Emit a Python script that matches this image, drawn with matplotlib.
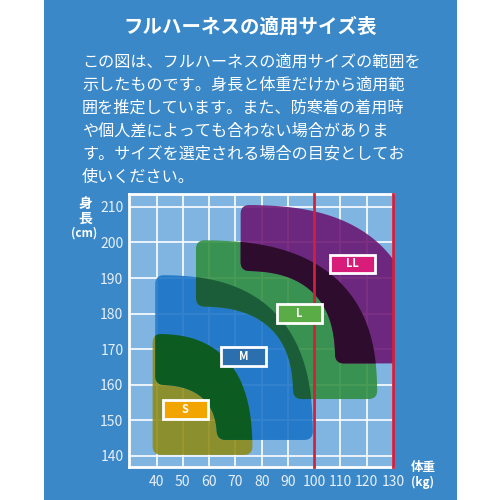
import matplotlib
matplotlib.use("Agg")
import matplotlib.pyplot as plt
from matplotlib.patches import Polygon, Rectangle
import numpy as np

plt.rcParams["font.family"] = ["Noto Sans CJK JP", "DejaVu Sans"]

# 文章
title = "フルハーネスの適用サイズ表"
body_lines = [
    "この図は、フルハーネスの適用サイズの範囲を",
    "示したものです。身長と体重だけから適用範",
    "囲を推定しています。また、防寒着の着用時",
    "や個人差によっても合わない場合がありま",
    "す。サイズを選定される場合の目安としてお",
    "使いください。",
]

# 軸
weight_ticks = [40, 50, 60, 70, 80, 90, 100, 110, 120, 130]
height_ticks = [140, 150, 160, 170, 180, 190, 200, 210]
limit_lines = [100, 130]

# サイズ範囲 (中心の体重, 中心の身長, 内側半径, 外側半径)
sizes = ["S", "M", "L", "LL"]
center_w = [38.5, 39.5, 55.0, 72.0]
center_h = [140.3, 144.5, 156.0, 166.0]
inner_w = [0.0, 23.5, 37.0, 36.0]
inner_h = [0.0, 15.5, 26.0, 26.0]
outer_w = [38.0, 60.0, 69.0, 68.0]
outer_h = [34.0, 46.3, 44.6, 44.5]

# ラベル位置
label_w = [51.0, 73.0, 94.3, 114.7]
label_h = [153.0, 168.0, 180.0, 194.0]

shape_colors = ["#8e8a12", "#1670c6", "#2f8c3d", "#6a1270"]
label_colors = ["#f2a400", "#2b6fae", "#5aac46", "#d81c7a"]
# 重なり部分 (S-M, M-L, L-LL)
overlap_pairs = [(0, 1), (1, 2), (2, 3)]
overlap_colors = ["#0b5a16", "#1b5a38", "#2a0b28"]


def band(i, n=2.6, k=80):
    t = np.linspace(0, np.pi / 2, k)
    ex = np.cos(t) ** (2 / n)
    ey = np.sin(t) ** (2 / n)
    outer = np.column_stack([center_w[i] + outer_w[i] * ex, center_h[i] + outer_h[i] * ey])
    inner = np.column_stack([center_w[i] + inner_w[i] * ex, center_h[i] + inner_h[i] * ey])
    pts = np.vstack([outer, inner[::-1]])
    return round_corners(pts)


def round_corners(pts, win=36):
    # 角を丸める (ピクセル単位に近いスケールで均等に再サンプルして平滑化)
    scale = np.array([2.63, 3.56])
    p = pts * scale
    p = np.vstack([p, p[:1]])
    seg = np.hypot(*np.diff(p, axis=0).T)
    keep = np.concatenate([[True], seg > 1e-9])
    p = p[keep]
    s = np.concatenate([[0], np.cumsum(np.hypot(*np.diff(p, axis=0).T))])
    u = np.arange(0, s[-1], 0.5)
    x = np.interp(u, s, p[:, 0])
    y = np.interp(u, s, p[:, 1])
    h = win
    ker = np.ones(h) / h
    xs = np.convolve(np.concatenate([x[-h:], x, x[:h]]), ker, mode="same")[h:-h]
    ys = np.convolve(np.concatenate([y[-h:], y, y[:h]]), ker, mode="same")[h:-h]
    return np.column_stack([xs, ys]) / scale


fig = plt.figure(figsize=(5, 5), dpi=100)
fig.patch.set_facecolor("white")
fig.patches.append(Rectangle((0.088, 0), 0.826, 1, transform=fig.transFigure,
                             facecolor="#3a88c8", edgecolor="none", zorder=-1))

fig.text(0.5, 0.946, title, ha="center", va="center", color="white",
         fontsize=14, fontweight="bold")
for i, line in enumerate(body_lines):
    fig.text(0.164, 0.876 - i * 0.046, line, ha="left", va="center",
             color="white", fontsize=11.6)

ax = fig.add_axes([0.258, 0.066, 0.528, 0.546])
ax.set_zorder(2)
ax.set_facecolor("#80b5e2")
ax.set_xlim(29.5, 130)
ax.set_ylim(136.9, 213.6)
ax.set_xticks(weight_ticks)
ax.set_yticks(height_ticks)
ax.tick_params(length=0, colors="#e8eff7", labelsize=10)
ax.tick_params(axis="x", pad=6)
ax.tick_params(axis="y", pad=4)
ax.grid(True, color="white", linewidth=1.2, zorder=0)
ax.set_axisbelow(True)
for side in ["top", "left", "bottom"]:
    ax.spines[side].set_color("white")
    ax.spines[side].set_linewidth(2)
ax.spines["right"].set_visible(False)

patches = []
for i in range(len(sizes)):
    p = Polygon(band(i), closed=True, facecolor=shape_colors[i],
                edgecolor="none", alpha=0.87, zorder=2)
    ax.add_patch(p)
    patches.append(p)

for (a, b), col in zip(overlap_pairs, overlap_colors):
    q = Polygon(band(b), closed=True, facecolor=col, edgecolor="none",
                alpha=0.93, zorder=3)
    ax.add_patch(q)
    q.set_clip_path(patches[a])

for x in limit_lines:
    ax.axvline(x, color="#d21f3c", linewidth=2, zorder=4, clip_on=False)

for i, name in enumerate(sizes):
    ax.add_patch(Rectangle((label_w[i] - 8.5, label_h[i] - 2.6), 17, 5.2,
                           facecolor=label_colors[i], edgecolor="white",
                           linewidth=2, zorder=5))
    ax.text(label_w[i], label_h[i], name, ha="center", va="center",
            color="white", fontsize=8, fontweight="bold", zorder=6)

fig.text(0.17, 0.578, "身\n長", ha="center", va="center", color="white",
         fontsize=10, fontweight="bold", linespacing=1.05)
fig.text(0.168, 0.533, "(cm)", ha="center", va="center", color="white",
         fontsize=8.5, fontweight="bold")
fig.text(0.846, 0.064, "体重", ha="center", va="center", color="white",
         fontsize=9, fontweight="bold")
fig.text(0.846, 0.036, "(kg)", ha="center", va="center", color="white",
         fontsize=8.5, fontweight="bold")

fig.savefig("out.png", dpi=100)
